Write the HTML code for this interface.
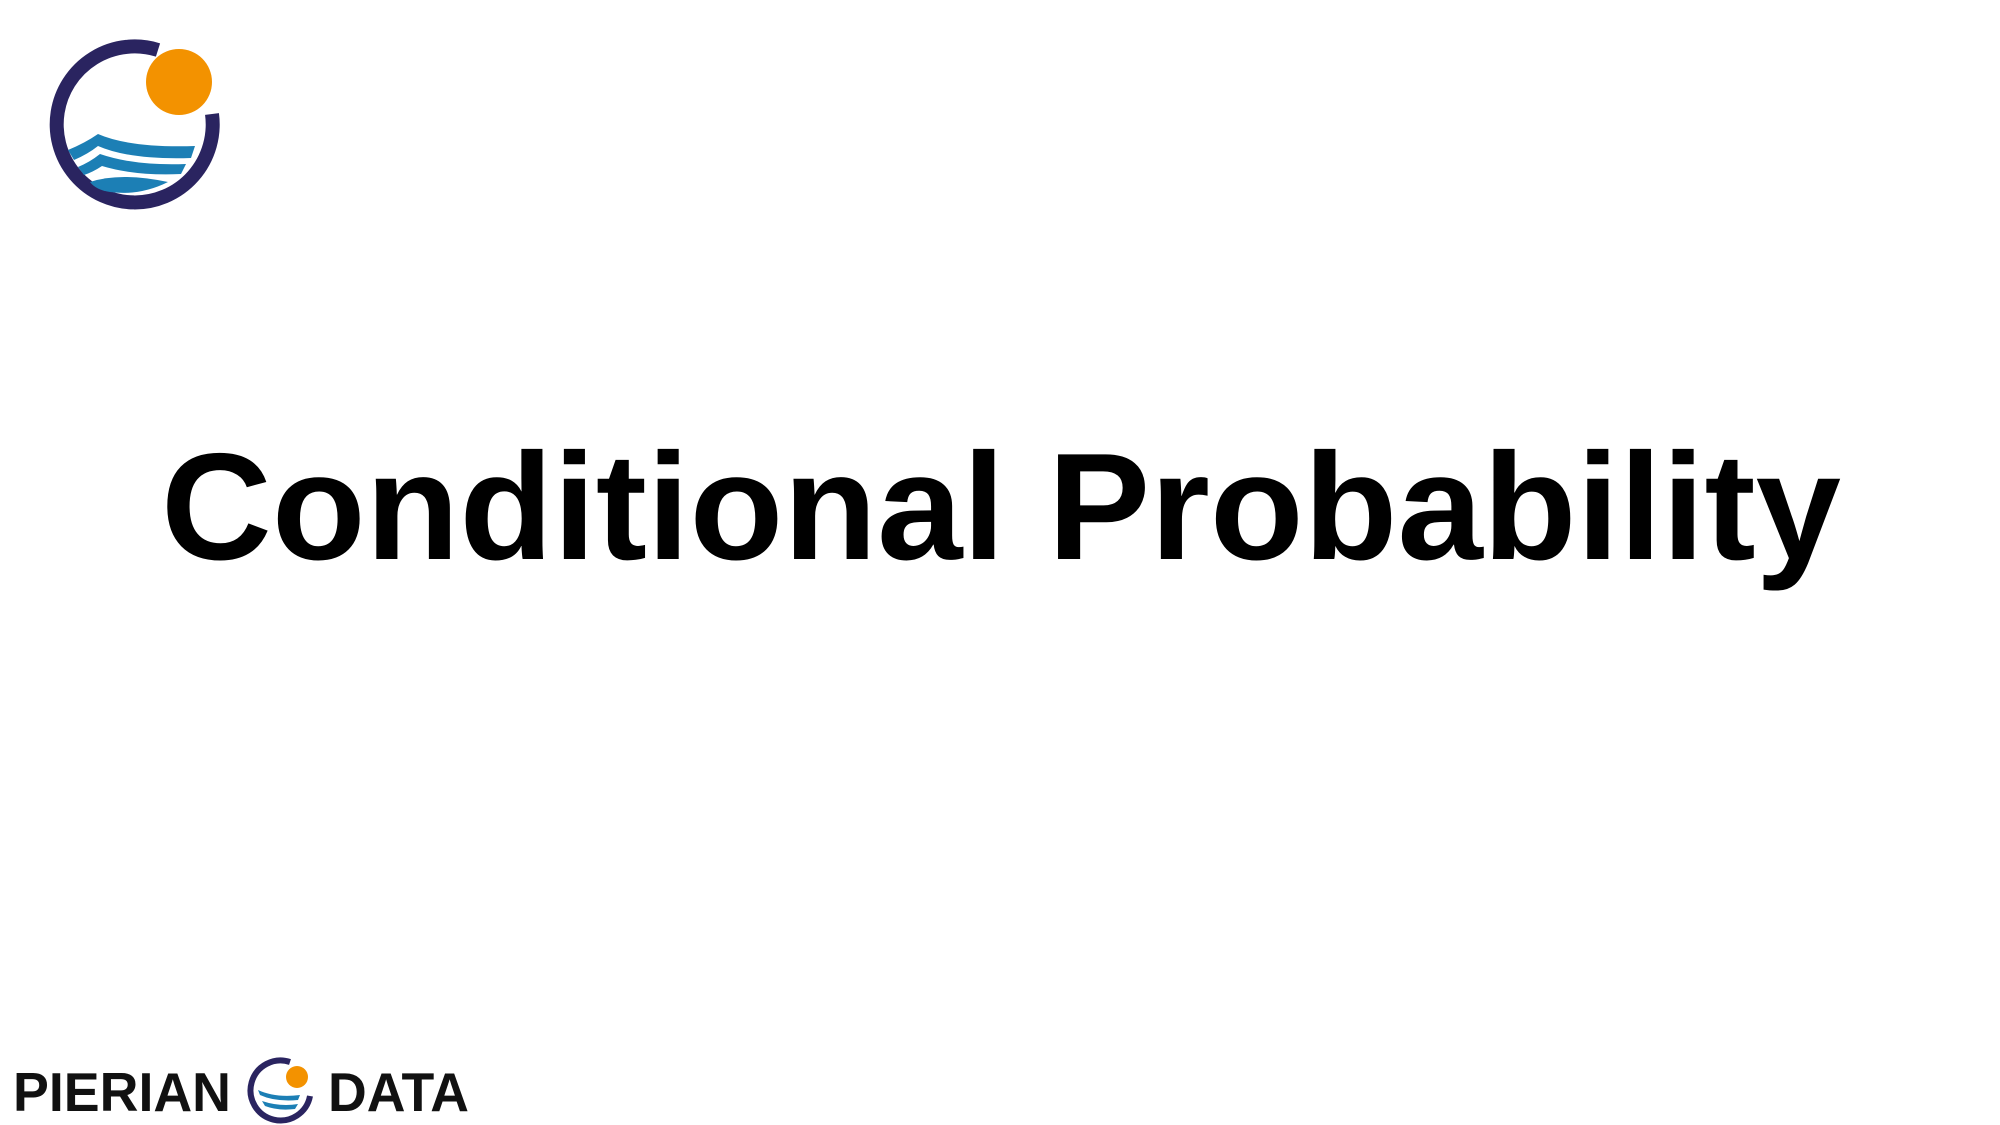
<!DOCTYPE html>
<html><head><meta charset="utf-8"><style>
html,body{margin:0;padding:0;background:#fff;}
svg{display:block;}
</style></head><body>
<svg width="2000" height="1125" viewBox="0 0 2000 1125" xmlns="http://www.w3.org/2000/svg">
  <rect width="2000" height="1125" fill="#fff"/>
  <g>
    <path d="M158 50 A78 78 0 1 0 212 114" fill="none" stroke="#2a2460" stroke-width="14" stroke-linecap="butt"/>
    <circle cx="179" cy="82" r="33" fill="#f39200"/>
    <path d="M68 150 Q85 143 98 134 Q130 148 195 146 L191 158 Q130 160 98 146 Q88 154 74 160 Z" fill="#1c7fb5"/>
    <path d="M78 167 Q90 162 100 154 Q135 166 186 164 L181 174 Q135 176 102 166 Q93 172 84 175 Z" fill="#1c7fb5"/>
    <path d="M90 182 Q120 172 168 182 Q140 196 110 192 Q96 190 90 182 Z" fill="#1c7fb5"/>
  </g>
  <text x="161" y="559" textLength="1680" lengthAdjust="spacingAndGlyphs" font-family="Liberation Sans, sans-serif" font-weight="bold" font-size="152" fill="#000">Conditional Probability</text>
  <g transform="translate(0,-6)">
    <text x="13" y="1117" textLength="218" lengthAdjust="spacingAndGlyphs" font-family="Liberation Sans, sans-serif" font-weight="bold" font-size="55" fill="#111">PIERIAN</text>
    <path d="M290 1068 A30 30 0 1 0 310 1102" fill="none" stroke="#2a2460" stroke-width="6"/>
    <circle cx="297" cy="1083" r="11" fill="#f39200"/>
    <path d="M258 1096 Q275 1104 300 1101 L298 1106 Q275 1108 260 1101 Z" fill="#1c7fb5"/>
    <path d="M262 1107 Q280 1113 298 1110 L295 1115 Q278 1117 265 1112 Z" fill="#1c7fb5"/>
    <text x="328" y="1117" textLength="141" lengthAdjust="spacingAndGlyphs" font-family="Liberation Sans, sans-serif" font-weight="bold" font-size="55" fill="#111">DATA</text>
  </g>
</svg>
</body></html>
